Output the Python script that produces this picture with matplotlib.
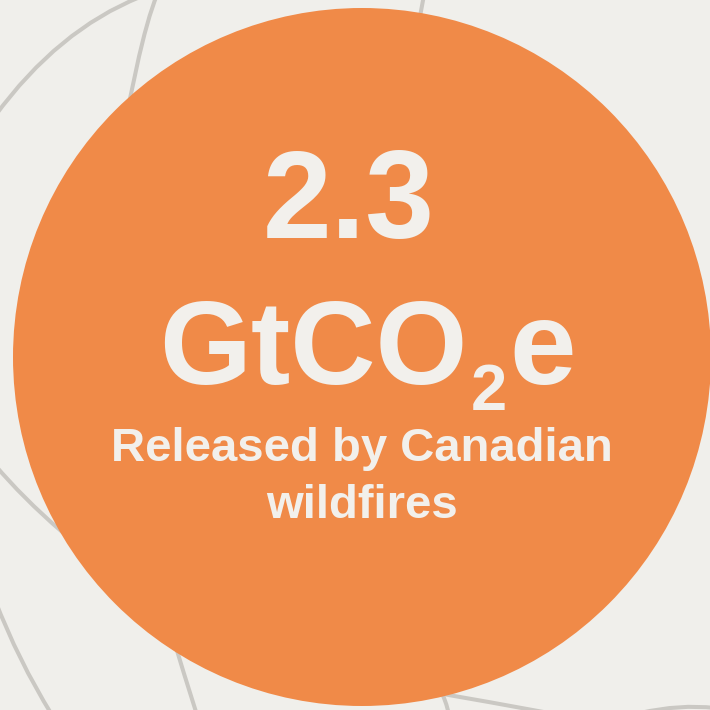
import matplotlib.pyplot as plt
from matplotlib.patches import Circle, PathPatch
from matplotlib.path import Path

# headline figure
value = "2.3"
unit_main = "GtCO"
unit_sub = "2"
unit_tail = "e"
caption = ["Released by Canadian", "wildfires"]

BG = "#F0EFEB"
ORANGE = "#F08A48"
TEXT = "#F2F0EC"
LINE = "#CAC8C3"
FONT = "Liberation Sans"

# decorative background curves (start, control, end) in pixel coords
curves = [
    ((-5, 116), (58, 30), (140, -3)),
    ((157, -5), (138, 40), (112, 200)),
    ((424, -5), (418, 30), (405, 80)),
    ((-5, 465), (50, 530), (150, 600)),
    ((-5, 600), (18, 660), (52, 715)),
    ((150, 560), (170, 630), (197, 715)),
    ((420, 690), (490, 702), (560, 715)),
    ((440, 690), (446, 700), (449, 715)),
    ((640, 713), (680, 704), (715, 708)),
]

fig = plt.figure(figsize=(7.1, 7.1), dpi=100)
fig.patch.set_facecolor(BG)
ax = fig.add_axes([0, 0, 1, 1])
ax.set_xlim(0, 710)
ax.set_ylim(710, 0)
ax.axis("off")
ax.set_facecolor(BG)

for p0, c, p1 in curves:
    path = Path([p0, c, p1], [Path.MOVETO, Path.CURVE3, Path.CURVE3])
    ax.add_patch(PathPatch(path, fill=False, edgecolor=LINE, lw=2.9,
                           capstyle="butt", zorder=1))

ax.add_patch(Circle((362, 357), 349, facecolor=ORANGE, edgecolor="none",
                    zorder=2))

ax.text(349, 238, value, ha="center", va="baseline", fontsize=89,
        fontweight="bold", family=FONT, color=TEXT, zorder=3)

ax.text(467, 384, unit_main, ha="right", va="baseline", fontsize=85,
        fontweight="bold", family=FONT, color=TEXT, zorder=3)
ax.text(489, 410, unit_sub, ha="center", va="baseline", fontsize=47,
        fontweight="bold", family=FONT, color=TEXT, zorder=3)
ax.text(509, 384, unit_tail, ha="left", va="baseline", fontsize=86,
        fontweight="bold", family=FONT, color=TEXT, zorder=3)

for i, line in enumerate(caption):
    ax.text(362, 461 + 57 * i, line, ha="center", va="baseline",
            fontsize=34, fontweight="bold", family=FONT, color=TEXT,
            zorder=3)

fig.savefig("out.png", dpi=100, facecolor=BG)
